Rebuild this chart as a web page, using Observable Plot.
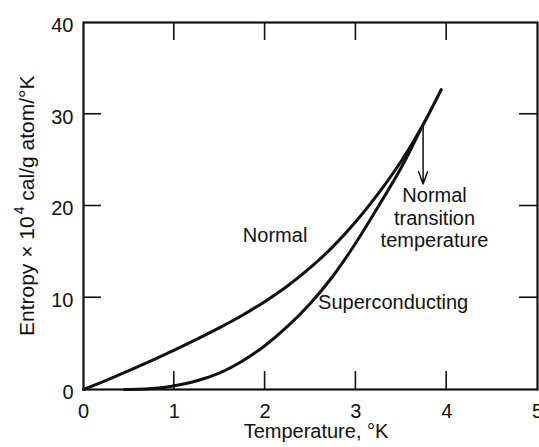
<!DOCTYPE html>
<html><head><meta charset="utf-8">
<script src="https://cdn.jsdelivr.net/npm/d3@7"></script>
<script src="https://cdn.jsdelivr.net/npm/@observablehq/plot@0.6"></script>
<style>body{margin:0;background:#fff}svg{display:block}</style>
</head><body><div id="chart"></div>
<script>
// Data
const normalT = [0, 0.25, 0.5, 0.75, 1.0, 1.25, 1.5, 1.75, 2.0, 2.25, 2.5, 2.75, 3.0, 3.25, 3.5, 3.72, 3.94];
const normalS = [0, 1.0, 2.05, 3.15, 4.3, 5.5, 6.75, 8.1, 9.6, 11.3, 13.3, 15.6, 18.3, 21.4, 24.9, 28.5, 32.7];
const superT = [0.45, 0.6, 0.75, 0.9, 1.0, 1.25, 1.5, 1.75, 2.0, 2.25, 2.5, 2.75, 3.0, 3.25, 3.5, 3.72];
const superS = [0, 0.02, 0.1, 0.25, 0.4, 0.95, 1.8, 3.1, 4.8, 6.9, 9.4, 12.4, 16.0, 20.0, 24.2, 28.5];
const xTicks = [0, 1, 2, 3, 4, 5];
const yTicks = [0, 10, 20, 30, 40];
const xInner = [1, 2, 3, 4];
const yInner = [10, 20, 30];
const xDomain = [0, 5];
const yDomain = [0, 40];
const arrowT = [3.74];
const arrowFrom = [28.9];
const arrowTo = [22.4];
const labelText = ["Normal", "Superconducting", "Normal\ntransition\ntemperature"];
const labelT = [2.11, 3.41, 3.866];
const labelS = [16.9, 9.6, 18.75];
const xTitle = "Temperature, °K";
const yTitleParts = ["Entropy × 10", "4", " cal/g atom/°K"];

const W = 539, H = 447;
const mL = 83, mR = 2, mT = 22, mB = 58;
const tick = 18;
const ink = "#111";

const normal = normalT.map((t, i) => ({T: t, S: normalS[i]}));
const superc = superT.map((t, i) => ({T: t, S: superS[i]}));
const arrows = arrowT.map((t, i) => ({T: t, y1: arrowFrom[i], y2: arrowTo[i]}));
const labels = labelText.map((s, i) => ({s, T: labelT[i], S: labelS[i]}));

const plot = Plot.plot({
  width: W, height: H,
  marginLeft: mL, marginRight: mR, marginTop: mT, marginBottom: mB,
  style: {fontFamily: "Liberation Sans, Arial, sans-serif", fontSize: "20px", background: "#fff", color: ink, overflow: "visible"},
  x: {domain: xDomain},
  y: {domain: yDomain},
  marks: [
    Plot.frame({stroke: ink, fill: "none", strokeWidth: 2.2}),
    Plot.axisX(xTicks, {tickSize: 0, tickPadding: 14, fontSize: 20, label: null, fill: ink}),
    Plot.axisY(yTicks, {tickSize: 0, tickPadding: 10, fontSize: 20, dy: 3, label: null, fill: ink}),
    Plot.line(normal, {x: "T", y: "S", curve: "catmull-rom", stroke: ink, strokeWidth: 3}),
    Plot.line(superc, {x: "T", y: "S", curve: "catmull-rom", stroke: ink, strokeWidth: 3}),
    Plot.arrow(arrows, {x: "T", y1: "y1", y2: "y2", stroke: ink, strokeWidth: 1.5, headLength: 13, headAngle: 40}),
    Plot.text(labels, {x: "T", y: "S", text: "s", fontSize: 20, fill: ink, lineHeight: 1.12, lineAnchor: "middle"})
  ]
});

// inward ticks on all four sides, placed with the plot's own scales
const sx = plot.scale ? plot.scale("x") : null;
const sy = plot.scale ? plot.scale("y") : null;
const fx = sx && sx.apply ? v => sx.apply(v) : d3.scaleLinear(xDomain, [mL, W - mR]);
const fy = sy && sy.apply ? v => sy.apply(v) : d3.scaleLinear(yDomain, [H - mB, mT]);
const svg = d3.select(plot);
const g = svg.append("g").attr("stroke", ink).attr("stroke-width", 1.6);
const yb = fy(yDomain[0]), ytp = fy(yDomain[1]);
const xl = fx(xDomain[0]), xr = fx(xDomain[1]);
xInner.forEach(v => {
  const px = fx(v);
  g.append("line").attr("x1", px).attr("x2", px).attr("y1", yb).attr("y2", yb - tick);
  g.append("line").attr("x1", px).attr("x2", px).attr("y1", ytp).attr("y2", ytp + tick);
});
yInner.forEach(v => {
  const py = fy(v);
  g.append("line").attr("y1", py).attr("y2", py).attr("x1", xl).attr("x2", xl + tick);
  g.append("line").attr("y1", py).attr("y2", py).attr("x1", xr).attr("x2", xr - tick);
});

svg.append("text")
  .attr("x", 316).attr("y", 438)
  .attr("text-anchor", "middle")
  .attr("font-size", 20).attr("fill", ink)
  .text(xTitle);
const yt = svg.append("text")
  .attr("transform", "translate(34,336) rotate(-90)")
  .attr("text-anchor", "start")
  .attr("font-size", 21).attr("fill", ink);
yt.append("tspan").text(yTitleParts[0]);
yt.append("tspan").attr("font-size", 14).attr("dy", -10).attr("dx", 2).text(yTitleParts[1]);
yt.append("tspan").attr("dy", 10).text(yTitleParts[2]);

document.getElementById("chart").appendChild(plot);
</script>
</body></html>
